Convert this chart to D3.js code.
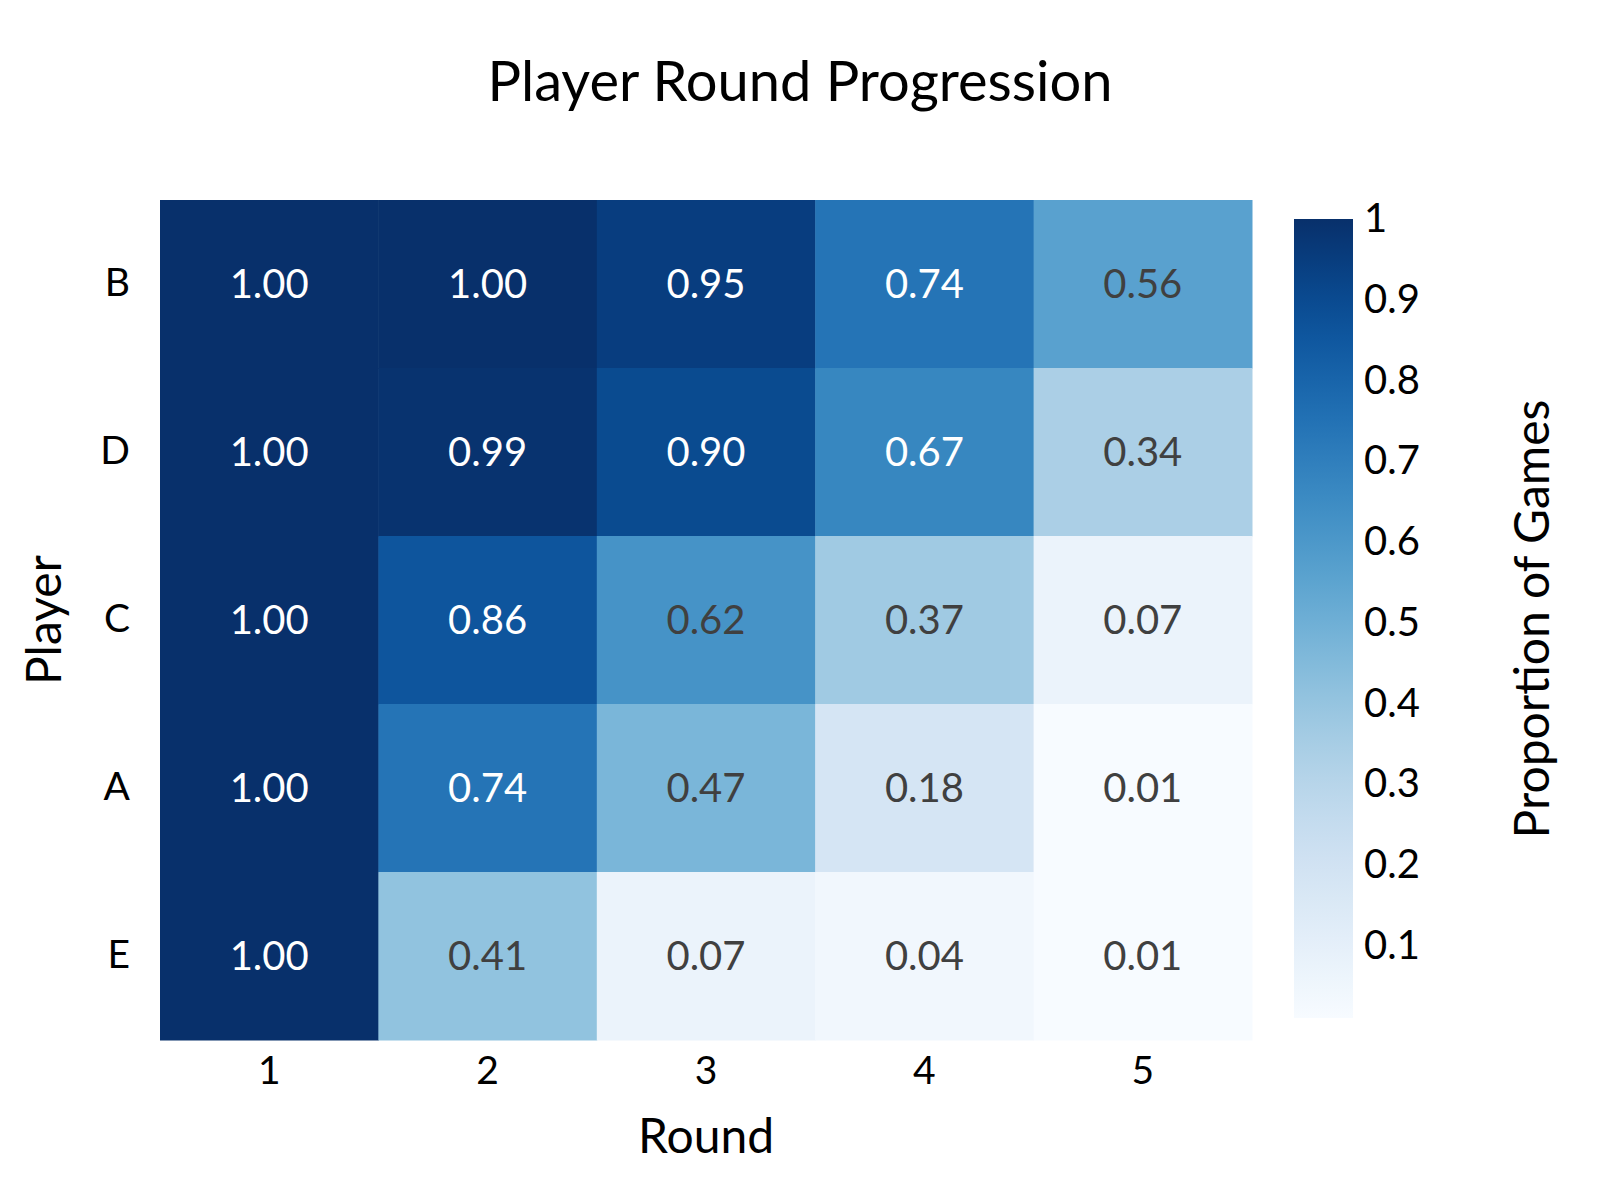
<!DOCTYPE html>
<html>
<head>
<meta charset="utf-8">
<script src="https://cdn.jsdelivr.net/npm/d3@7"></script>
<style>
  body { margin: 0; background: #fff; }
  text { font-family: "Lato", "Open Sans", sans-serif; }
</style>
</head>
<body>
<div id="chart"></div>
<script>
// data
const rounds = [1, 2, 3, 4, 5]
const players = ["B", "D", "C", "A", "E"]
const valuesB = [1.00, 1.00, 0.95, 0.74, 0.56]
const valuesD = [1.00, 0.99, 0.90, 0.67, 0.34]
const valuesC = [1.00, 0.86, 0.62, 0.37, 0.07]
const valuesA = [1.00, 0.74, 0.47, 0.18, 0.01]
const valuesE = [1.00, 0.41, 0.07, 0.04, 0.01]
const colorTicks = [0.1, 0.2, 0.3, 0.4, 0.5, 0.6, 0.7, 0.8, 0.9, 1]

const rows = {B: valuesB, D: valuesD, C: valuesC, A: valuesA, E: valuesE}
let cells = []
players.forEach(p => rows[p].forEach((v, i) => cells.push({player: p, round: rounds[i], value: v})))

var width = 1600, height = 1200

var svg = d3.select("#chart")
  .append("svg")
    .attr("width", width)
    .attr("height", height)

var x = d3.scaleBand().domain(rounds).range([160, 1252])
var y = d3.scaleBand().domain(players).range([200, 1040])

var vmin = d3.min(cells, d => d.value), vmax = d3.max(cells, d => d.value)
var color = d3.scaleSequential(d3.interpolateBlues).domain([vmin, vmax])

// title
svg.append("text")
    .attr("x", 800).attr("y", 101)
    .attr("text-anchor", "middle")
    .style("font-size", "56px")
    .text("Player Round Progression")

// cells
svg.selectAll("rect.cell")
    .data(cells)
    .enter()
    .append("rect")
      .attr("class", "cell")
      .attr("x", d => x(d.round))
      .attr("y", d => y(d.player))
      .attr("width", x.bandwidth() + 0.5)
      .attr("height", y.bandwidth() + 0.5)
      .style("fill", d => color(d.value))

svg.selectAll("text.val")
    .data(cells)
    .enter()
    .append("text")
      .attr("class", "val")
      .attr("x", d => x(d.round) + x.bandwidth() / 2)
      .attr("y", d => y(d.player) + y.bandwidth() / 2 + 14)
      .attr("text-anchor", "middle")
      .style("font-size", "40px")
      .style("fill", d => d.value > 0.65 ? "#ffffff" : "#404040")
      .text(d => d.value.toFixed(2))

// axes
var xAxis = svg.append("g")
    .attr("transform", "translate(0,1040)")
    .call(d3.axisBottom(x).tickSize(0).tickPadding(16))
var yAxis = svg.append("g")
    .attr("transform", "translate(160,0)")
    .call(d3.axisLeft(y).tickSize(0).tickPadding(30))
;[xAxis, yAxis].forEach(g => {
  g.select(".domain").remove()
  g.selectAll("text").style("font-size", "39px").style("font-family", "Lato, sans-serif").style("fill", "#000")
})

svg.append("text")
    .attr("x", 706).attr("y", 1153)
    .attr("text-anchor", "middle")
    .style("font-size", "48px")
    .text("Round")

svg.append("text")
    .attr("transform", "translate(61,620) rotate(-90)")
    .attr("text-anchor", "middle")
    .style("font-size", "48px")
    .text("Player")

// colour bar
var cbTop = 219, cbBottom = 1018
var cy = d3.scaleLinear().domain([vmin, vmax]).range([cbBottom, cbTop])

var grad = svg.append("defs").append("linearGradient")
    .attr("id", "cbgrad")
    .attr("x1", 0).attr("y1", 1).attr("x2", 0).attr("y2", 0)
grad.selectAll("stop")
    .data(d3.range(0, 1.0001, 0.05))
    .enter()
    .append("stop")
      .attr("offset", d => d)
      .attr("stop-color", d => color(vmin + d * (vmax - vmin)))

svg.append("rect")
    .attr("x", 1294).attr("y", cbTop)
    .attr("width", 59).attr("height", cbBottom - cbTop)
    .style("fill", "url(#cbgrad)")

var cAxis = svg.append("g")
    .attr("transform", "translate(1353,0)")
    .call(d3.axisRight(cy).tickValues(colorTicks).tickFormat(d3.format("~g")).tickSize(0).tickPadding(11))
cAxis.select(".domain").remove()
cAxis.selectAll("text").style("font-size", "40px").style("font-family", "Lato, sans-serif").style("fill", "#000")

svg.append("text")
    .attr("transform", "translate(1549,619) rotate(-90)")
    .attr("text-anchor", "middle")
    .style("font-size", "48px")
    .text("Proportion of Games")
</script>
</body>
</html>
